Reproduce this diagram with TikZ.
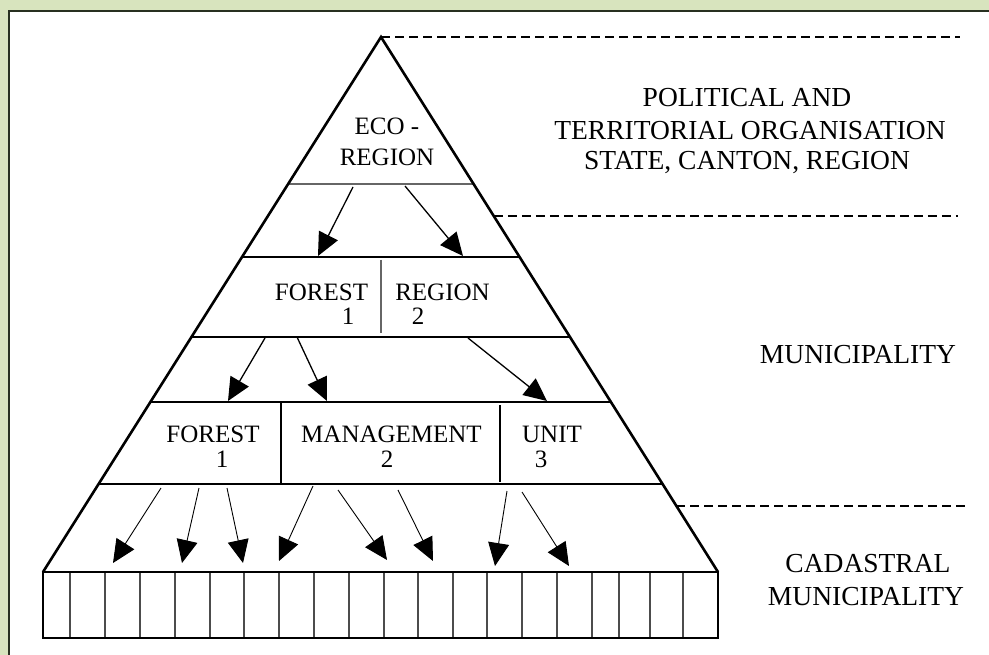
\documentclass[tikz,border=0pt]{standalone}
\usepackage{fontspec}
\setmainfont{Liberation Serif}
\usetikzlibrary{arrows.meta,calc}
\definecolor{framegreen}{RGB}{216,228,190}
\definecolor{frameline}{RGB}{40,48,32}
\begin{document}
\begin{tikzpicture}[x=1pt,y=-1pt,
 edge/.style={line width=2.6pt, line join=miter},
 tier/.style={line width=2pt},
 thintier/.style={line width=1.4pt, black!60},
 cell/.style={line width=1.4pt, black!70},
 level/.style={line width=1.5pt, dash pattern=on 9pt off 5pt},
 arr/.style={-{Triangle[length=23pt,width=21pt]}, line width=1.3pt},
 arrthin/.style={-{Triangle[length=23pt,width=21pt]}, line width=0.9pt},
 intext/.style={font=\fontsize{25}{30}\selectfont, inner sep=0pt, anchor=base},
 outtext/.style={font=\fontsize{27.5}{32}\selectfont, inner sep=0pt, anchor=base},
]
\useasboundingbox (0,0) rectangle (989,655);
% frame
\fill[framegreen] (0,0) rectangle (989,655);
\fill[white] (9,11) rectangle (1000,670);
\draw[frameline, line width=1.5pt] (9,670) -- (9,11) -- (1000,11);

% key points
\coordinate (apex) at (381,37);
\coordinate (bl) at (43,572);
\coordinate (br) at (718,572);
\coordinate (barbr) at (718,638);

% dashed level lines
\coordinate (d1e) at (960,37);
\coordinate (d2s) at ($(apex)!0.3346!(br)$);
\coordinate (d2e) at (958,216);
\coordinate (d3s) at ($(apex)!0.8766!(br)$);
\coordinate (d3e) at (968,506);
\draw[level] (apex) -- (d1e);
\draw[level] (d2s) -- (d2e |- d2s);
\draw[level] (d3s) -- (d3e |- d3s);

% tier lines
\draw[thintier] ($(apex)!0.2748!(bl)$) -- ($(apex)!0.2748!(br)$);
\draw[tier] ($(apex)!0.4112!(bl)$) -- ($(apex)!0.4112!(br)$);
\draw[tier] ($(apex)!0.5607!(bl)$) -- ($(apex)!0.5607!(br)$);
\draw[tier] ($(apex)!0.6822!(bl)$) -- ($(apex)!0.6822!(br)$);
\draw[tier] ($(apex)!0.8355!(bl)$) -- ($(apex)!0.8355!(br)$);

% dividers
\draw[thintier] (381,260) -- (381,333);
\draw[tier] (281,402) -- (281,484);
\draw[tier] (500,405) -- (500,482);

% bar cells
\foreach \x in {70,105,140,175,210,244,279,314,349,384,418,453,487,522,557,592,619,650,683}
  \draw[cell] (\x,572) -- (\x,638);
\draw[edge] (bl) rectangle (barbr);

% pyramid sides
\draw[edge] (bl) -- (apex) -- (br);

% texts inside
\node[intext] (eco) at (387,135) {ECO -};
\node[intext] (ecoreg) at (387,166) {REGION};
\node[intext] (fr1) at (321.5,301) {FOREST};
\node[intext] (fr1n) at (348,325) {1};
\node[intext] (fr2) at (442.5,301) {REGION};
\node[intext] (fr2n) at (418,325) {2};
\node[intext] (fm1) at (213,442) {FOREST};
\node[intext] (fm1n) at (222,467) {1};
\node[intext] (fm2) at (391.5,442) {MANAGEMENT};
\node[intext] (fm2n) at (387,467) {2};
\node[intext] (fm3) at (552,442) {UNIT};
\node[intext] (fm3n) at (541,467) {3};

% texts outside
\node[outtext] (pol1) at (747,107) {POLITICAL AND};
\node[outtext] (pol2) at (750,140) {TERRITORIAL ORGANISATION};
\node[outtext] (pol3) at (747,170) {STATE, CANTON, REGION};
\node[outtext] (mun) at (858,363) {MUNICIPALITY};
\node[outtext] (cad1) at (868,572) {CADASTRAL};
\node[outtext] (cad2) at (866,605) {MUNICIPALITY};

% arrow end points
\coordinate (a1s) at (353,187); \coordinate (a1e) at (318,256);
\coordinate (a2s) at (405,186); \coordinate (a2e) at (463,256);
\coordinate (b1s) at (265,338); \coordinate (b1e) at (228,401);
\coordinate (b2s) at (297,337); \coordinate (b2e) at (327,401);
\coordinate (b3s) at (468,338); \coordinate (b3e) at (547,401);
\coordinate (c1s) at (161,488); \coordinate (c1e) at (113,563);
\coordinate (c2s) at (199,488); \coordinate (c2e) at (182,563);
\coordinate (c3s) at (227,488); \coordinate (c3e) at (243,563);
\coordinate (c4s) at (313,486); \coordinate (c4e) at (279,561);
\coordinate (c5s) at (338,490); \coordinate (c5e) at (387,560);
\coordinate (c6s) at (398,490); \coordinate (c6e) at (433,561);
\coordinate (c7s) at (507,491); \coordinate (c7e) at (495,566);
\coordinate (c8s) at (522,492); \coordinate (c8e) at (569,566);

\draw[arr] (a1s) -- (a1e);
\draw[arr] (a2s) -- (a2e);
\draw[arr] (b1s) -- (b1e);
\draw[arr] (b2s) -- (b2e);
\draw[arr] (b3s) -- (b3e);
\foreach \i in {1,...,8}
  \draw[arrthin] (c\i s) -- (c\i e);
\end{tikzpicture}
\end{document}
